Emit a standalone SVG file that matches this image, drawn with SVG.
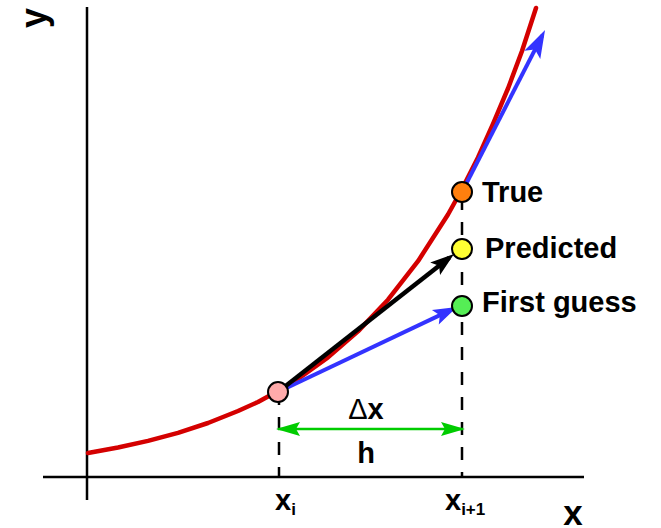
<svg xmlns="http://www.w3.org/2000/svg" width="661" height="528" viewBox="0 0 661 528">
<style>
.axis{stroke:#000;stroke-width:2.5;fill:none}
.dash{stroke:#000;stroke-width:2.5;stroke-dasharray:13,12;fill:none}
.curve{stroke:#d40000;stroke-width:4.5;fill:none;stroke-linecap:round;stroke-linejoin:round}
.blue{stroke:#3333ff;stroke-width:4;fill:none}
.black{stroke:#000;stroke-width:4.5;fill:none}
.green{stroke:#00cc00;stroke-width:2.5;fill:none}
.pt{stroke:#000;stroke-width:2}
text{font-family:"Liberation Sans",Arial,sans-serif;font-weight:bold;fill:#000}
.lbl{font-size:29px}
</style>
<defs>
<marker id="hb" markerUnits="userSpaceOnUse" orient="auto" refX="-6" refY="0" overflow="visible" markerWidth="1" markerHeight="1">
<path d="M-24,-8 L0,0 L-24,8 L-19,0 z" fill="#3333ff"/>
</marker>
<marker id="hb2" markerUnits="userSpaceOnUse" orient="auto" refX="-6" refY="0" overflow="visible" markerWidth="1" markerHeight="1">
<path d="M-28,-9 L0,0 L-28,9 L-22,0 z" fill="#3333ff"/>
</marker>
<marker id="hk" markerUnits="userSpaceOnUse" orient="auto" refX="-6" refY="0" overflow="visible" markerWidth="1" markerHeight="1">
<path d="M-24,-8 L0,0 L-24,8 L-19,0 z" fill="#000"/>
</marker>
<marker id="hg" markerUnits="userSpaceOnUse" orient="auto-start-reverse" refX="-2" refY="0" overflow="visible" markerWidth="1" markerHeight="1">
<path d="M-24,-7 L0,0 L-24,7 L-20,0 z" fill="#00cc00"/>
</marker>
</defs>
<g id="axes">
<line class="axis" x1="87" y1="7" x2="87" y2="500"/>
<line class="axis" x1="43" y1="477" x2="584" y2="477"/>
<text x="573" y="525" font-size="35" text-anchor="middle">x</text>
<text transform="translate(46,18) rotate(-90)" font-size="36" text-anchor="middle">y</text>
</g>
<g id="curve">
<path class="curve" d="M88,453 L118,447.5 L148,440.9 L178,432.8 L208,423 L238,411 L258,402 L278,391 L298,378.8 L328,357.4 L358,331.4 L388,299.7 L418,261.2 L448,214.5 L461,191 L478,157.5 L493,124 L508,88.5 L522,51 L536,8"/>
</g>
<g id="connectors">
<line class="dash" x1="279" y1="392" x2="279" y2="477"/>
<line class="dash" x1="462" y1="197" x2="462" y2="477"/>
<line class="blue" x1="278" y1="392" x2="451.6" y2="309.6" marker-end="url(#hb)"/>
<line class="black" x1="278" y1="392" x2="449.3" y2="257.7" marker-end="url(#hk)"/>
<line class="blue" x1="462" y1="192" x2="542.3" y2="35.3" marker-end="url(#hb2)"/>
<line class="green" x1="278" y1="429" x2="463" y2="429" marker-start="url(#hg)" marker-end="url(#hg)"/>
</g>
<g id="node-xi">
<circle class="pt" cx="278" cy="392" r="10" fill="#ffaaaa"/>
</g>
<g id="node-true">
<circle class="pt" cx="462" cy="192" r="10" fill="#ff7f0e"/>
<text class="lbl" x="482" y="202">True</text>
</g>
<g id="node-predicted">
<circle class="pt" cx="462" cy="249" r="10" fill="#ffff33"/>
<text class="lbl" x="485" y="258">Predicted</text>
</g>
<g id="node-first">
<circle class="pt" cx="462" cy="306" r="10" fill="#55ee55"/>
<text class="lbl" x="482" y="312">First guess</text>
</g>
<g id="labels">
<text class="lbl" x="366" y="419" text-anchor="middle"><tspan font-weight="normal">Δ</tspan>x</text>
<text class="lbl" x="366" y="463" text-anchor="middle">h</text>
<text class="lbl" x="275" y="510">x<tspan font-size="17" dy="5">i</tspan></text>
<text class="lbl" x="445" y="510">x<tspan font-size="17" dy="5">i+1</tspan></text>
</g>
</svg>
